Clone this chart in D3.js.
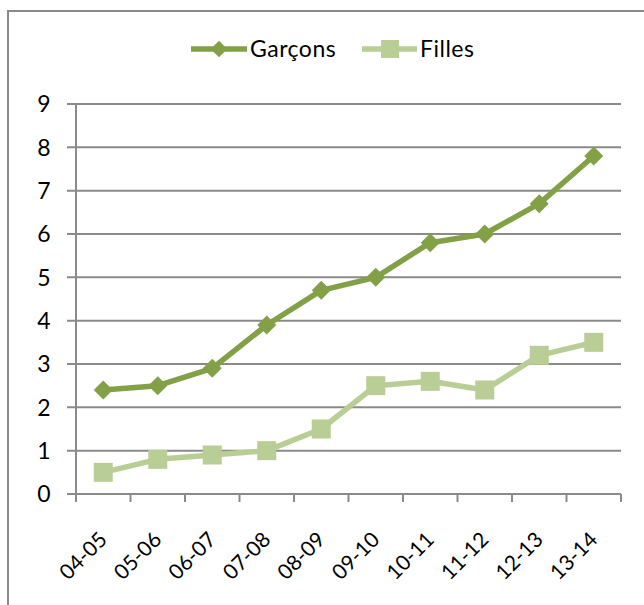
<!DOCTYPE html>
<html>
<head>
<meta charset="utf-8">
<script src="https://cdn.jsdelivr.net/npm/d3@7"></script>
<style>
  body { margin: 0; background: #fff; }
  svg { display: block; font-family: Lato, "Open Sans", sans-serif; }
  text { fill: #000; font-size: 23px; letter-spacing: 0.5px; }
  text.xlab { font-size: 21px; letter-spacing: 0; }
</style>
</head>
<body>
<div id="chart"></div>
<script>
// seasons on the x axis
var seasons = ["04-05", "05-06", "06-07", "07-08", "08-09", "09-10", "10-11", "11-12", "12-13", "13-14"];
var garcons = [2.4, 2.5, 2.9, 3.9, 4.7, 5.0, 5.8, 6.0, 6.7, 7.8];
var filles = [0.5, 0.8, 0.9, 1.0, 1.5, 2.5, 2.6, 2.4, 3.2, 3.5];
var yTicks = [0, 1, 2, 3, 4, 5, 6, 7, 8, 9];

var dark = "#82A147";
var light = "#B8CE94";
var grid = "#8a8a8a";

var W = 644, H = 605;
var margin = {top: 104, right: 23, bottom: 111, left: 76};
var width = W - margin.left - margin.right;
var height = H - margin.top - margin.bottom;

var svg = d3.select("#chart").append("svg")
  .attr("width", W)
  .attr("height", H);

// outer chart frame (runs off the right and bottom edges)
svg.append("rect")
  .attr("x", 8).attr("y", 11)
  .attr("width", 660).attr("height", 620)
  .attr("fill", "none")
  .attr("stroke", grid)
  .attr("stroke-width", 2);

var g = svg.append("g")
  .attr("transform", "translate(" + margin.left + "," + margin.top + ")");

var x = d3.scaleBand().domain(seasons).range([0, width]);
var y = d3.scaleLinear().domain([0, 9]).range([height, 0]);

// gridlines + y ticks
g.selectAll(".grid")
  .data(yTicks)
  .enter().append("line")
  .attr("x1", -9).attr("x2", width)
  .attr("y1", function(d) { return y(d); })
  .attr("y2", function(d) { return y(d); })
  .attr("stroke", grid)
  .attr("stroke-width", 2);

g.selectAll(".ylab")
  .data(yTicks)
  .enter().append("text")
  .attr("x", -25)
  .attr("y", function(d) { return y(d); })
  .attr("dy", "0.36em")
  .attr("text-anchor", "end")
  .text(function(d) { return d; });

// y axis line
g.append("line")
  .attr("x1", 0).attr("x2", 0)
  .attr("y1", 0).attr("y2", height)
  .attr("stroke", grid).attr("stroke-width", 2);

// x ticks at band edges
var edges = seasons.map(function(s) { return x(s); }).concat([width]);
g.selectAll(".xtick")
  .data(edges)
  .enter().append("line")
  .attr("x1", function(d) { return d; })
  .attr("x2", function(d) { return d; })
  .attr("y1", height).attr("y2", height + 8)
  .attr("stroke", grid).attr("stroke-width", 2);

// rotated season labels
g.selectAll(".xlab")
  .data(seasons)
  .enter().append("text")
  .attr("class", "xlab")
  .attr("text-anchor", "end")
  .attr("transform", function(d) {
    var cx = x(d) + x.bandwidth() / 2 + 5;
    return "translate(" + cx + "," + (height + 47) + ") rotate(-45)";
  })
  .text(function(d) { return d; });

var line = d3.line()
  .x(function(d, i) { return x(seasons[i]) + x.bandwidth() / 2; })
  .y(function(d) { return y(d); });

// Filles
g.append("path")
  .datum(filles)
  .attr("d", line)
  .attr("fill", "none")
  .attr("stroke", light)
  .attr("stroke-width", 5.5)
  .attr("stroke-linejoin", "round");

g.selectAll(".sq")
  .data(filles)
  .enter().append("rect")
  .attr("x", function(d, i) { return x(seasons[i]) + x.bandwidth() / 2 - 9.5; })
  .attr("y", function(d) { return y(d) - 9.5; })
  .attr("width", 19).attr("height", 19)
  .attr("fill", light);

// Garçons
g.append("path")
  .datum(garcons)
  .attr("d", line)
  .attr("fill", "none")
  .attr("stroke", dark)
  .attr("stroke-width", 5.5)
  .attr("stroke-linejoin", "round");

var diamond = d3.symbol().type(d3.symbolSquare).size(180);
g.selectAll(".dm")
  .data(garcons)
  .enter().append("path")
  .attr("d", diamond)
  .attr("transform", function(d, i) {
    return "translate(" + (x(seasons[i]) + x.bandwidth() / 2) + "," + y(d) + ") rotate(45)";
  })
  .attr("fill", dark);

// legend
var legend = svg.append("g").attr("transform", "translate(0,49)");
legend.append("line")
  .attr("x1", 191).attr("x2", 247).attr("y1", 0).attr("y2", 0)
  .attr("stroke", dark).attr("stroke-width", 5.5);
legend.append("path")
  .attr("d", d3.symbol().type(d3.symbolSquare).size(140))
  .attr("transform", "translate(219,0) rotate(45)")
  .attr("fill", dark);
legend.append("text")
  .attr("x", 250).attr("y", 0).attr("dy", "0.36em")
  .text("Garçons");

legend.append("line")
  .attr("x1", 362).attr("x2", 417).attr("y1", 0).attr("y2", 0)
  .attr("stroke", light).attr("stroke-width", 5.5);
legend.append("rect")
  .attr("x", 381).attr("y", -9).attr("width", 18).attr("height", 18)
  .attr("fill", light);
legend.append("text")
  .attr("x", 420).attr("y", 0).attr("dy", "0.36em")
  .text("Filles");
</script>
</body>
</html>
